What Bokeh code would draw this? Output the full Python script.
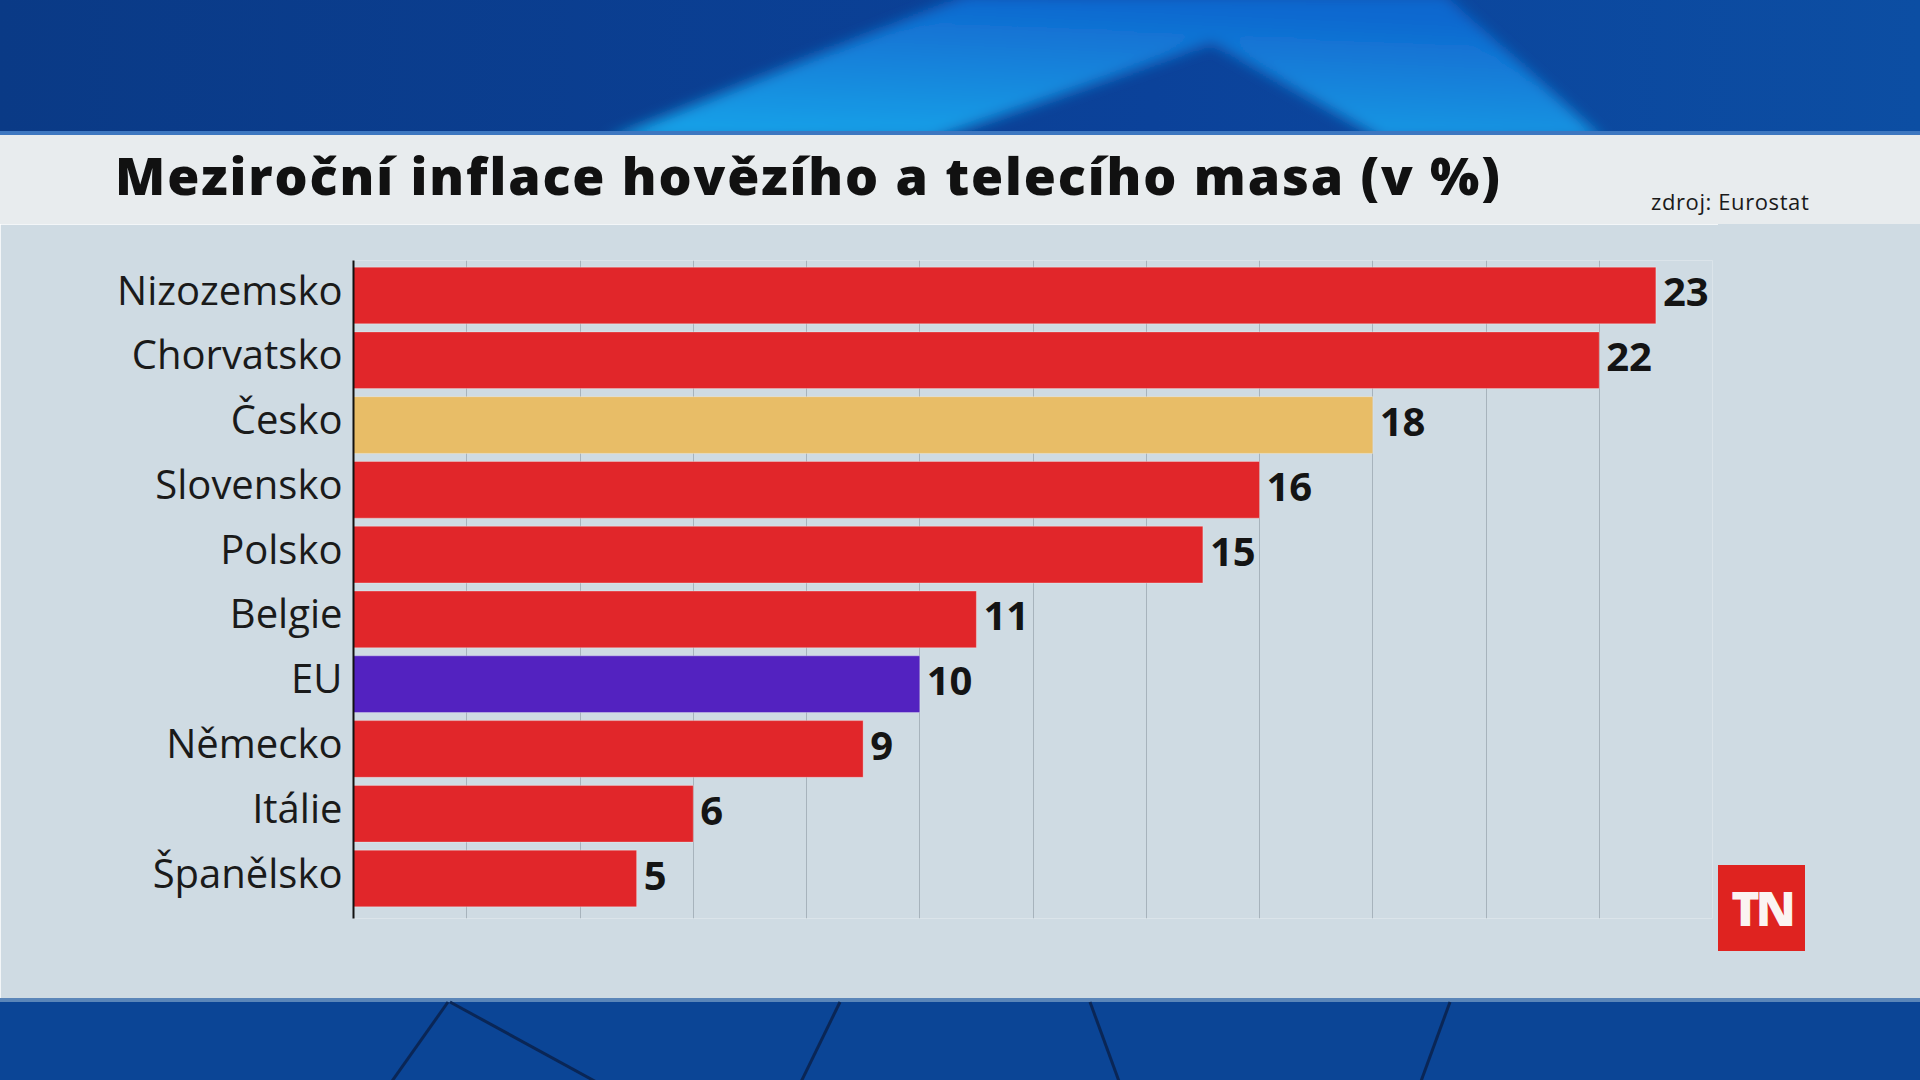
from bokeh.plotting import figure
from bokeh.models import Range1d, SingleIntervalTicker, FixedTicker, ColumnDataSource, Div
from bokeh.layouts import column, row
from bokeh.core.properties import value
from bokeh.embed import file_html
from bokeh.resources import INLINE

# ---- data ----
categories = ["Nizozemsko", "Chorvatsko", "Česko", "Slovensko", "Polsko",
              "Belgie", "EU", "Německo", "Itálie", "Španělsko"]
values = [23, 22, 18, 16, 15, 11, 10, 9, 6, 5]
RED, GOLD, PURPLE = "#e1262a", "#e8bd67", "#5322c0"
bar_colors = [RED, RED, GOLD, RED, RED, RED, PURPLE, RED, RED, RED]
value_labels = [str(v) for v in values]
title_text = "Meziroční inflace hovězího a telecího masa (v %)"
source_text = "zdroj: Eurostat"
x_max = 24
grid_step = 2

CHART_BG = "#cfdbe3"
TITLE_BG = "#e8ecee"

# category slots, first category on top
n = len(categories)
ypos = [n - 1 - i for i in range(n)]
label_shift = 0.1  # lift the category names slightly above bar centres, as in the original

src = ColumnDataSource(dict(cat=categories, y=ypos, val=values, color=bar_colors, label=value_labels))

p = figure(
    y_range=Range1d(-0.617, n - 1 + 0.54),
    x_range=Range1d(0, x_max),
    frame_width=1359, frame_height=658,
    min_border_left=353, min_border_right=6, min_border_top=36, min_border_bottom=80,
    output_backend="svg", toolbar_location=None,
    background_fill_color=CHART_BG, border_fill_color=CHART_BG,
    outline_line_color=None, margin=0,
)

p.hbar(y="y", left=0, right="val", height=0.875, fill_color="color",
       line_color="white", line_alpha=0.3, line_width=1, source=src)
p.text(x="val", y="y", text="label", x_offset=7, y_offset=-3, text_baseline="middle",
       text_align="left", text_font=value("Open Sans"), text_font_style="bold",
       text_font_size="40px", text_color="#141414", source=src)

p.xaxis.visible = False
p.xaxis.ticker = SingleIntervalTicker(interval=grid_step)
p.xgrid.ticker = SingleIntervalTicker(interval=grid_step)
p.xgrid.grid_line_color = "#a7b3bc"
p.xgrid.grid_line_width = 1
p.ygrid.grid_line_color = None

ya = p.yaxis[0]
ya.ticker = FixedTicker(ticks=[y + label_shift for y in ypos])
ya.major_label_overrides = {y + label_shift: c for y, c in zip(ypos, categories)}
ya.axis_line_color = "#111111"
ya.axis_line_width = 2
ya.major_tick_line_color = None
ya.minor_tick_line_color = None
ya.major_label_text_font = "Open Sans"
ya.major_label_text_font_size = "40px"
ya.major_label_text_color = "#1a1a1a"
ya.major_label_standoff = 5

top_svg = """
<svg width="1920" height="135" xmlns="http://www.w3.org/2000/svg" style="display:block">
<defs>
<linearGradient id="bgt" x1="0" x2="1" y1="0" y2="0">
<stop offset="0" stop-color="#0a3a86"/><stop offset="0.6" stop-color="#0b429a"/><stop offset="1" stop-color="#0c4ea3"/>
</linearGradient>
<linearGradient id="stripe" x1="0" x2="0.3" y1="1" y2="0">
<stop offset="0" stop-color="#13a6ea"/><stop offset="1" stop-color="#1168cf"/>
</linearGradient>
<filter id="bl"><feGaussianBlur stdDeviation="7"/></filter>
</defs>
<rect width="1920" height="135" fill="url(#bgt)"/>
<polygon points="606,140 967,-5 1445,-5 1604,140 1384,140 1212,43 931,140" fill="url(#stripe)" filter="url(#bl)"/>
<rect y="131" width="1920" height="4" fill="#3d77c0"/>
</svg>
"""
top_div = Div(text=top_svg, width=1920, height=135, margin=0,
              styles={"background-color": "#0a3d8c", "overflow": "hidden"})

title_html = f"""
<div style="position:relative;width:1920px;height:89px;background:{TITLE_BG};overflow:hidden">
<span style="position:absolute;left:115px;top:14px;font-family:'Open Sans';font-weight:800;font-size:52px;line-height:52px;letter-spacing:1.9px;color:#111;white-space:nowrap">{title_text}</span>
<span style="position:absolute;left:1651px;top:55px;font-family:'Open Sans';font-size:22px;line-height:22px;letter-spacing:0.6px;color:#1a1a1a;white-space:nowrap">{source_text}</span>
</div>
"""
title_div = Div(text=title_html, width=1920, height=89, margin=0,
                styles={"background-color": TITLE_BG, "overflow": "hidden"})

logo_html = """
<div style="margin-top:641px;width:87px;height:86px;background:#df2320;color:#fbf4f2;font-family:'Open Sans';font-weight:800;font-size:48px;line-height:86px;text-align:center;letter-spacing:-4px;">TN</div>
"""
logo_div = Div(text=logo_html, width=202, height=774, margin=0,
               styles={"background-color": CHART_BG, "overflow": "hidden"})

bottom_svg = """
<svg width="1920" height="82" xmlns="http://www.w3.org/2000/svg" style="display:block">
<rect width="1920" height="82" fill="#0b4596"/>
<rect width="1920" height="4" fill="#5b86b9"/>
<g stroke="#0a2656" stroke-width="3" fill="none">
<line x1="390" y1="86" x2="448" y2="4"/>
<line x1="450" y1="4" x2="600" y2="86"/>
<line x1="800" y1="86" x2="840" y2="4"/>
<line x1="1120" y1="86" x2="1090" y2="4"/>
<line x1="1420" y1="86" x2="1450" y2="4"/>
</g>
</svg>
"""
bottom_div = Div(text=bottom_svg, width=1920, height=82, margin=0,
                 styles={"background-color": "#0b4596", "overflow": "hidden"})

layout = column(top_div, title_div, row(p, logo_div, spacing=0, margin=0), bottom_div,
                spacing=0, margin=0)

open("out.html", "w").write(file_html(layout, INLINE))
